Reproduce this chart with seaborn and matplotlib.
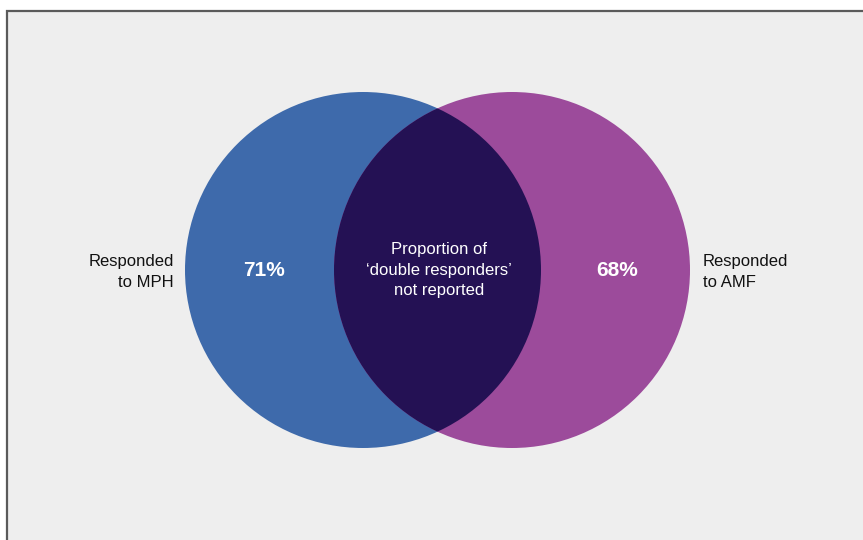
import matplotlib
matplotlib.use("Agg")
import matplotlib.pyplot as plt
from matplotlib.patches import Circle, Rectangle
import seaborn as sns

# Data
set_labels = ["Responded\nto MPH", "Responded\nto AMF"]
set_values = [71, 68]
overlap_label = "Proportion of\n\u2018double responders\u2019\nnot reported"
set_colors = ["#3e6aab", "#9c4b9b"]
overlap_color = "#241154"

sns.set_theme(style="white")
plt.rcParams['font.family'] = ['Liberation Sans', 'DejaVu Sans']

fig = plt.figure(figsize=(8.63, 5.40), dpi=100, facecolor="white")
ax = fig.add_axes([0, 0, 1, 1])
ax.set_xlim(0, 863)
ax.set_ylim(540, 0)
ax.set_aspect("equal")
ax.axis("off")

# background panel with frame
ax.add_patch(Rectangle((7, 11), 880, 560, facecolor="#eeeeee",
                       edgecolor="#5a5a5a", lw=1.6, zorder=0))

r = 178
centers = [(363, 270), (512, 270)]
for (cx, cy), col in zip(centers, set_colors):
    ax.add_patch(Circle((cx, cy), r, facecolor=col, edgecolor="none", zorder=1))

# overlap lens: right circle clipped by left circle
lens = Circle(centers[1], r, facecolor=overlap_color, edgecolor="none", zorder=2)
ax.add_patch(lens)
clip = Circle(centers[0], r, transform=ax.transData)
lens.set_clip_path(clip)

# value labels
ax.text(264, 271, f"{set_values[0]}%", color="white", fontsize=15,
        fontweight="bold", ha="center", va="center", zorder=3)
ax.text(617, 271, f"{set_values[1]}%", color="white", fontsize=15,
        fontweight="bold", ha="center", va="center", zorder=3)

ax.text(439, 270, overlap_label, color="white", fontsize=12,
        ha="center", va="center", linespacing=1.45, zorder=3, multialignment="center")

ax.text(174, 272, set_labels[0], color="#111111", fontsize=12,
        ha="right", va="center", linespacing=1.45, multialignment="right")
ax.text(703, 272, set_labels[1], color="#111111", fontsize=12,
        ha="left", va="center", linespacing=1.45, multialignment="left")

fig.savefig("out.png", dpi=100, facecolor="white")
